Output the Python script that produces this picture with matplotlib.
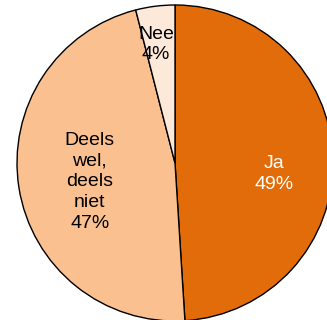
import matplotlib
matplotlib.use("Agg")
from matplotlib import pyplot as plt

labels = ["Ja", "Deels\nwel,\ndeels\nniet", "Nee"]
values = [49, 47, 4]
colors = ["#E36C0A", "#FAC090", "#FDE9D9"]
text_colors = ["white", "black", "black"]

plt.rcParams["font.family"] = ["Liberation Sans", "DejaVu Sans"]

fig = plt.figure(figsize=(3.27, 3.20), dpi=100)
ax = fig.add_axes([17/327, -1/320, 316/327, 316/320])

wedges, _ = ax.pie(values, colors=colors, startangle=90, counterclock=False,
                   radius=1.0, wedgeprops=dict(edgecolor="black", linewidth=1.0))

# label spots (x, y) in data units
spots = [(0.63, -0.07), (-0.54, -0.12), (-0.12, 0.75)]
for lab, v, c, (x, y) in zip(labels, values, text_colors, spots):
    ax.text(x, y, "%s\n%d%%" % (lab, v), ha="center", va="center",
            fontsize=14, color=c, linespacing=1.3)

ax.set_xlim(-1, 1)
ax.set_ylim(-1, 1)
ax.set_aspect("equal")
ax.axis("off")

fig.savefig("out.png", dpi=100)
